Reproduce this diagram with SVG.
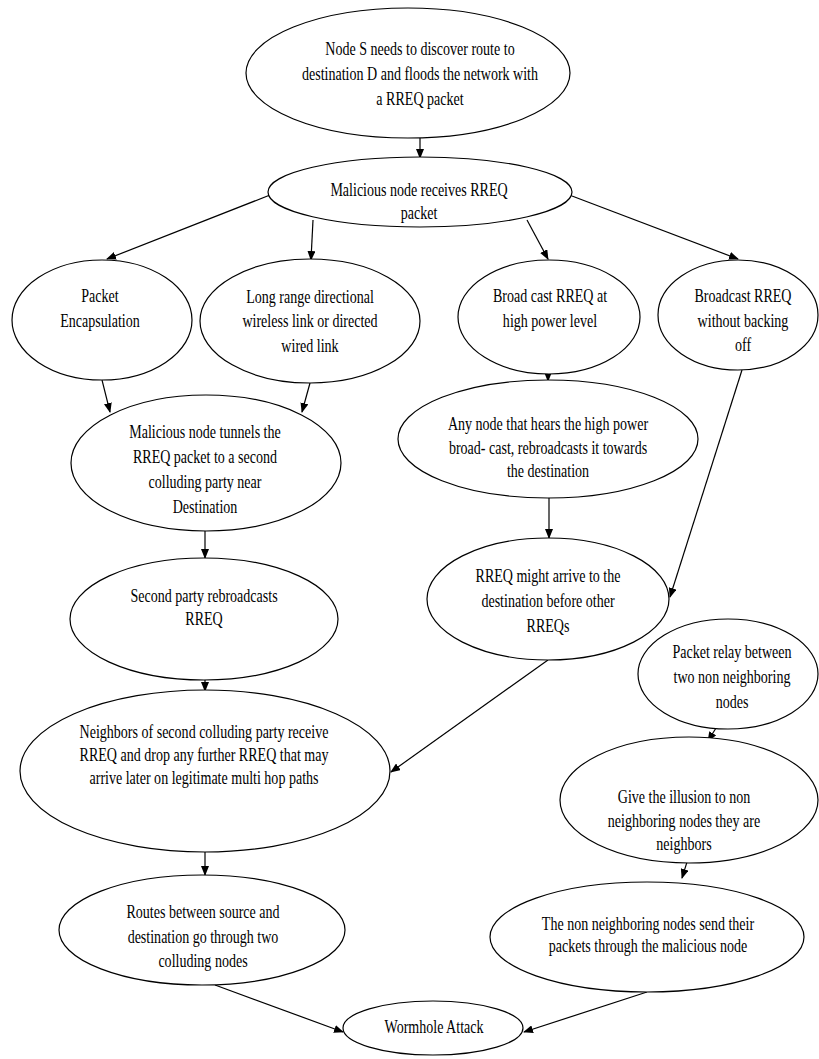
<svg xmlns="http://www.w3.org/2000/svg" width="819" height="1059" viewBox="0 0 819 1059">
<defs>
<style>
.n ellipse{fill:#fff;stroke:#000;stroke-width:1.2}
.n text{font-family:"Liberation Serif","Times New Roman",serif;font-size:18px;fill:#000;text-anchor:middle}
#edges line{stroke:#000;stroke-width:1.2;marker-end:url(#ah)}
</style>
<marker id="ah" markerUnits="userSpaceOnUse" markerWidth="10" markerHeight="8" refX="9" refY="4" orient="auto">
<path d="M0,0 L10,4 L0,8 Z" fill="#000"/>
</marker>
</defs>
<rect width="819" height="1059" fill="#fff"/>
<g id="edges">
<line x1="420" y1="138" x2="420" y2="158"/>
<line x1="270" y1="195" x2="107" y2="259"/>
<line x1="313" y1="220" x2="311" y2="260"/>
<line x1="527" y1="220" x2="548" y2="259"/>
<line x1="572" y1="196" x2="738" y2="259"/>
<line x1="548" y1="370" x2="548" y2="381"/>
<line x1="742" y1="370" x2="670" y2="597"/>
<line x1="549" y1="498" x2="549" y2="538"/>
<line x1="102" y1="380" x2="110" y2="412"/>
<line x1="310" y1="383" x2="302" y2="412"/>
<line x1="205" y1="531" x2="205" y2="558"/>
<line x1="205" y1="679" x2="205" y2="691"/>
<line x1="548" y1="660" x2="391" y2="772"/>
<line x1="205" y1="852" x2="205" y2="875"/>
<line x1="716" y1="728" x2="708" y2="741"/>
<line x1="687" y1="862" x2="682" y2="878"/>
<line x1="215" y1="985" x2="343" y2="1032"/>
<line x1="647" y1="992" x2="524" y2="1032"/>
</g>
<g id="n1" class="n"><ellipse cx="408" cy="73" rx="162" ry="65"/>
<g transform="translate(420,0) scale(0.78,1)"><text x="0" y="55">Node S needs to discover route to</text><text x="0" y="80">destination D and floods the network with</text><text x="0" y="105">a RREQ packet</text></g></g>
<g id="n2" class="n"><ellipse cx="420" cy="192" rx="152" ry="35"/>
<g transform="translate(419,0) scale(0.78,1)"><text x="0" y="196">Malicious node receives RREQ</text><text x="0" y="219">packet</text></g></g>
<g id="n3" class="n"><ellipse cx="102" cy="320" rx="90" ry="60"/>
<g transform="translate(100,0) scale(0.78,1)"><text x="0" y="302">Packet</text><text x="0" y="327">Encapsulation</text></g></g>
<g id="n4" class="n"><ellipse cx="310" cy="321" rx="110" ry="62"/>
<g transform="translate(310,0) scale(0.78,1)"><text x="0" y="303">Long range directional</text><text x="0" y="327">wireless link or directed</text><text x="0" y="352">wired link</text></g></g>
<g id="n5" class="n"><ellipse cx="549" cy="317" rx="91" ry="57"/>
<g transform="translate(550,0) scale(0.78,1)"><text x="0" y="302">Broad cast RREQ at</text><text x="0" y="327">high power level</text></g></g>
<g id="n6" class="n"><ellipse cx="738" cy="315" rx="80" ry="55"/>
<g transform="translate(743,0) scale(0.78,1)"><text x="0" y="302">Broadcast RREQ</text><text x="0" y="327">without backing</text><text x="0" y="351">off</text></g></g>
<g id="n7" class="n"><ellipse cx="548" cy="439" rx="150" ry="59"/>
<g transform="translate(548,0) scale(0.78,1)"><text x="0" y="430">Any node that hears the high power</text><text x="0" y="454">broad- cast, rebroadcasts it towards</text><text x="0" y="477">the destination</text></g></g>
<g id="n8" class="n"><ellipse cx="548" cy="599" rx="121" ry="61"/>
<g transform="translate(548,0) scale(0.78,1)"><text x="0" y="582">RREQ might arrive to the</text><text x="0" y="607">destination before other</text><text x="0" y="632">RREQs</text></g></g>
<g id="n9" class="n"><ellipse cx="728" cy="674" rx="90" ry="55"/>
<g transform="translate(732,0) scale(0.78,1)"><text x="0" y="658">Packet relay between</text><text x="0" y="683">two non neighboring</text><text x="0" y="708">nodes</text></g></g>
<g id="n10" class="n"><ellipse cx="689" cy="800" rx="129" ry="63"/>
<g transform="translate(684,0) scale(0.78,1)"><text x="0" y="803">Give the illusion to non</text><text x="0" y="827">neighboring nodes they are</text><text x="0" y="850">neighbors</text></g></g>
<g id="n11" class="n"><ellipse cx="647" cy="937" rx="157" ry="55"/>
<g transform="translate(648,0) scale(0.78,1)"><text x="0" y="930">The non neighboring nodes send their</text><text x="0" y="952">packets through the malicious node</text></g></g>
<g id="n12" class="n"><ellipse cx="206" cy="463" rx="135" ry="68"/>
<g transform="translate(205,0) scale(0.78,1)"><text x="0" y="438">Malicious node tunnels the</text><text x="0" y="463">RREQ packet to a second</text><text x="0" y="488">colluding party near</text><text x="0" y="513">Destination</text></g></g>
<g id="n13" class="n"><ellipse cx="204" cy="619" rx="134" ry="61"/>
<g transform="translate(204,0) scale(0.78,1)"><text x="0" y="602">Second party rebroadcasts</text><text x="0" y="625">RREQ</text></g></g>
<g id="n14" class="n"><ellipse cx="205" cy="771" rx="185" ry="81"/>
<g transform="translate(204,0) scale(0.78,1)"><text x="0" y="738">Neighbors of second colluding party receive</text><text x="0" y="761">RREQ and drop any further RREQ that may</text><text x="0" y="784">arrive later on legitimate multi hop paths</text></g></g>
<g id="n15" class="n"><ellipse cx="202" cy="930" rx="143" ry="55"/>
<g transform="translate(203,0) scale(0.78,1)"><text x="0" y="918">Routes between source and</text><text x="0" y="943">destination go through two</text><text x="0" y="967">colluding nodes</text></g></g>
<g id="n16" class="n"><ellipse cx="433" cy="1028" rx="90" ry="27"/>
<g transform="translate(434,0) scale(0.78,1)"><text x="0" y="1033">Wormhole Attack</text></g></g>
</svg>
